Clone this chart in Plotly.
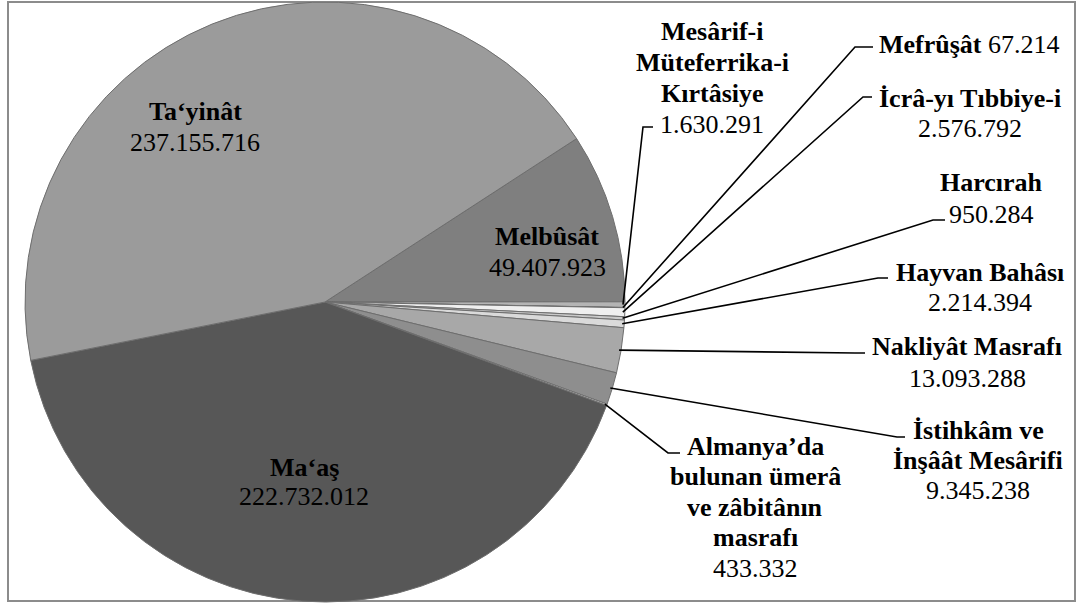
import math
import plotly.graph_objects as go

# ---------------- data ----------------
categories = [
    "Melbûsât",
    "Mesârif-i Müteferrika-i Kırtâsiye",
    "Mefrûşât",
    "İcrâ-yı Tıbbiye-i",
    "Harcırah",
    "Hayvan Bahâsı",
    "Nakliyât Masrafı",
    "İstihkâm ve İnşâât Mesârifi",
    "Almanya’da bulunan ümerâ ve zâbitânın masrafı",
    "Ma‘aş",
    "Ta‘yinât",
]
values = [49407923, 1630291, 67214, 2576792, 950284, 2214394,
          13093288, 9345238, 433332, 222732012, 237155716]

# ---------------- styles / layout ----------------
W, H = 1078, 605
colors = ["#7f7f7f", "#b4b4b4", "#e2e2e2", "#efefef", "#c9c9c9", "#dadada",
          "#a8a8a8", "#8e8e8e", "#c2c2c2", "#575757", "#9b9b9b"]

CX, CY, R = 325, 302, 300          # pie centre / radius in pixels
ROTATION = 57

FONT = "Liberation Serif, Times New Roman, serif"
FS = 26

# label text lines (name split into lines)
name_lines = [
    ["Melbûsât"],
    ["Mesârif-i", "Müteferrika-i", "Kırtâsiye"],
    None,  # single-line inline label
    ["İcrâ-yı Tıbbiye-i"],
    ["Harcırah"],
    ["Hayvan Bahâsı"],
    ["Nakliyât Masrafı"],
    ["İstihkâm ve", "İnşâât Mesârifi"],
    ["Almanya’da", "bulunan ümerâ", "ve zâbitânın", "masrafı"],
    ["Ma‘aş"],
    ["Ta‘yinât"],
]
# label placement: (centre x, first line y, line gap) in pixels
label_pos = [
    (547, 237, 30), (712, 32, 31), (877, 45, 0), (970, 98, 30),
    (991, 183, 32), (980, 272, 30), (967, 346, 32), (978, 430, 30),
    (755, 446, 30.5), (304, 467, 30), (195, 112, 31),
]
# leader line: elbow point and horizontal end (pixels); None = inside label
leaders = [
    None, ((643, 127), 653), ((855, 47), 873), ((863, 97), 872),
    ((933, 220), 945), ((878, 278), 888), ((855, 353), 865),
    ((897, 437), 905), ((668, 453), 680), None, None,
]


def px(x):
    return x / W


def py(y):
    return 1 - y / H


def fmt(v):
    return f"{v:,}".replace(",", ".")


fig = go.Figure()
fig.add_trace(go.Pie(
    labels=categories, values=values, sort=False, direction="clockwise",
    rotation=ROTATION, textinfo="none", hoverinfo="label+value",
    marker=dict(colors=colors, line=dict(color="#6e6e6e", width=1)),
    domain=dict(x=[px(CX - R), px(CX + R)], y=[py(CY + R), py(CY - R)]),
    showlegend=False,
))

annotations = []
shapes = []

# border
shapes.append(dict(type="rect", xref="paper", yref="paper",
                   x0=px(8), x1=px(1075), y0=py(601), y1=py(2),
                   line=dict(color="#8c8c8c", width=2), layer="below"))

total = sum(values)
cum = 0.0
for i, (cat, v) in enumerate(zip(categories, values)):
    mid = ROTATION + (cum + v / 2) / total * 360.0
    cum += v
    cx, cy, gap = label_pos[i]
    if name_lines[i] is None:
        annotations.append(dict(
            x=px(cx), y=py(cy), xref="paper", yref="paper",
            text=f"<b>{cat}</b> {fmt(v)}", showarrow=False,
            xanchor="left", yanchor="middle",
            font=dict(family=FONT, size=FS, color="black")))
    else:
        lines = [f"<b>{t}</b>" for t in name_lines[i]] + [fmt(v)]
        for k, t in enumerate(lines):
            annotations.append(dict(
                x=px(cx), y=py(cy + k * gap), xref="paper", yref="paper",
                text=t, showarrow=False, xanchor="center", yanchor="middle",
                font=dict(family=FONT, size=FS, color="black")))
    if leaders[i] is not None:
        a = math.radians(mid)
        sx = CX + (R - 2) * math.sin(a)
        sy = CY - (R - 2) * math.cos(a)
        (ex, ey), hx = leaders[i]
        shapes.append(dict(type="path", xref="paper", yref="paper",
                           path=f"M {px(sx)},{py(sy)} L {px(ex)},{py(ey)} L {px(hx)},{py(ey)}",
                           line=dict(color="black", width=1.6)))

fig.update_layout(
    width=W, height=H,
    margin=dict(l=0, r=0, t=0, b=0),
    paper_bgcolor="white", plot_bgcolor="white",
    font=dict(family=FONT, size=FS, color="black"),
    annotations=annotations, shapes=shapes,
)
fig.write_html("out.html", config={"displayModeBar": False},
               post_script="document.body.style.margin='0';document.body.style.overflow='hidden';")
